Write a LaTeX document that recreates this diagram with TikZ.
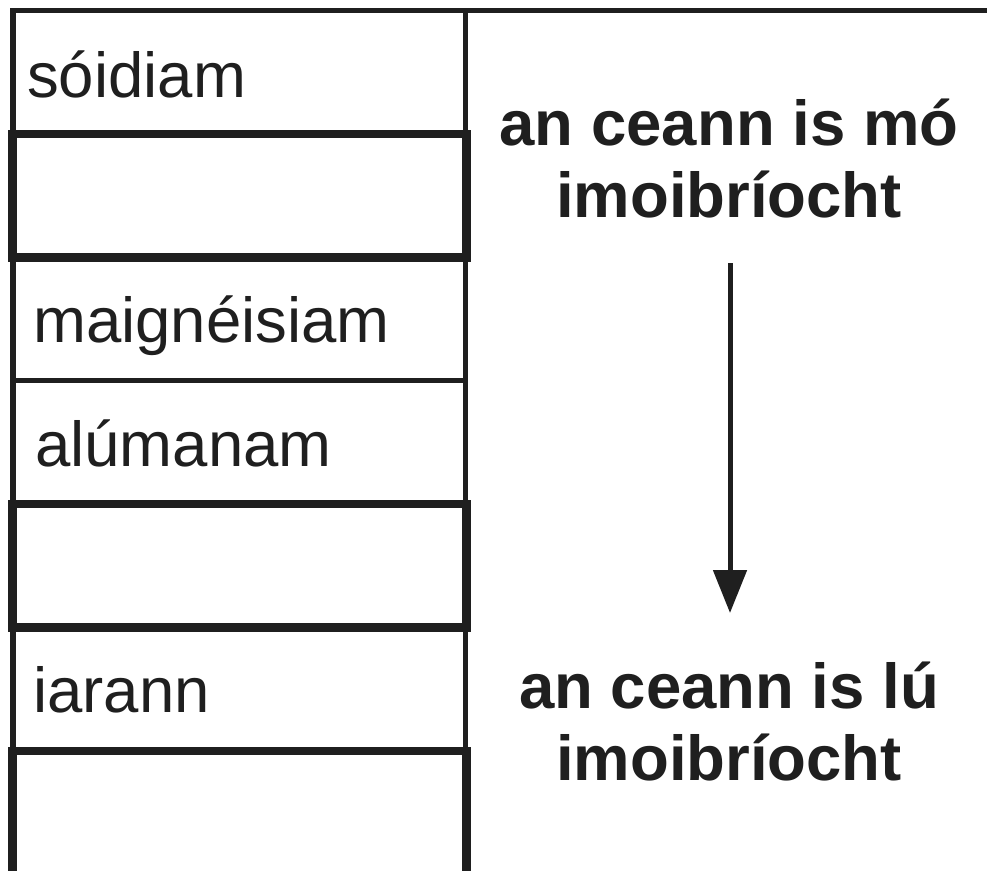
\documentclass[tikz,border=0pt]{standalone}
\usepackage{fontspec}
\setmainfont{Liberation Sans}
\usetikzlibrary{arrows.meta}
\begin{document}
\begin{tikzpicture}[x=1pt,y=-1pt,
  thinrule/.style={line width=5.3pt,color=black!88},
  thickrule/.style={line width=8.2pt,color=black!88},
  celltext/.style={inner sep=0pt,anchor=base west,font=\fontsize{63.5}{72}\selectfont,text=black!88},
  boldtext/.style={inner sep=0pt,anchor=base,font=\fontsize{63.5}{72}\selectfont\bfseries,text=black!88},
  arrowline/.style={line width=5pt,color=black!88,-{Triangle[width=33pt,length=43pt]}}]
\useasboundingbox[fill=white] (0,0) rectangle (987,870);
% outer frame
\draw[thinrule] (10,10.5) -- (987,10.5);
\draw[thinrule] (13,8) -- (13,880);
\draw[thinrule] (465.5,8) -- (465.5,880);
\draw[thinrule] (13,380.5) -- (465.5,380.5);
% thick empty boxes
\draw[thickrule] (12.5,134) rectangle (466.5,257.5);
\draw[thickrule] (12.5,504) rectangle (466.5,627.5);
\draw[thickrule] (12.5,751) rectangle (466.5,900);
% cell texts
\node[celltext] (sod) at (27,97) {sóidiam};
\node[celltext] (mag) at (33,342) {maignéisiam};
\node[celltext] (alu) at (35,466) {alúmanam};
\node[celltext] (iar) at (33,712) {iarann};
% right texts
\node[boldtext] (mo1) at (729,145) {an ceann is mó};
\node[boldtext] (mo2) at (729,217) {imoibríocht};
\node[boldtext] (lu1) at (729,708) {an ceann is lú};
\node[boldtext] (lu2) at (729,780) {imoibríocht};
% arrow
\coordinate (atop) at (730,263);
\coordinate (abot) at (730,613);
\draw[arrowline] (atop) -- (abot);
\end{tikzpicture}
\end{document}
